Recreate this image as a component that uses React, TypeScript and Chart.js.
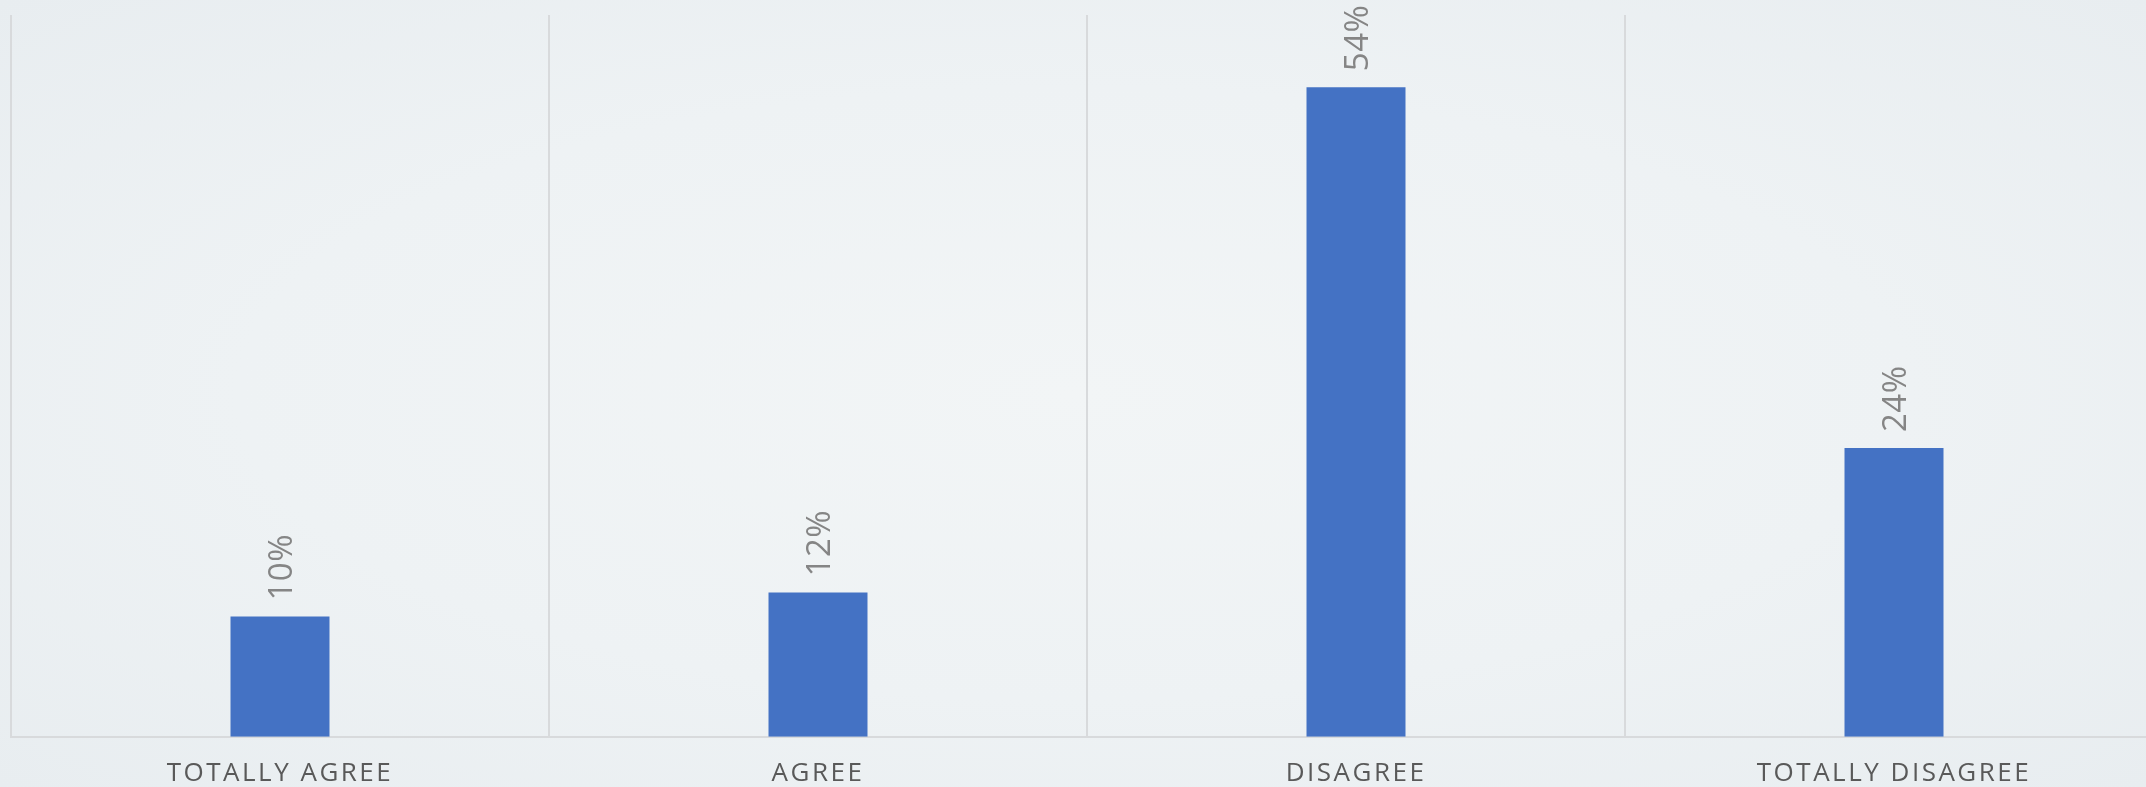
import React, { useEffect, useRef } from "react";
import { Chart, registerables } from "chart.js";

Chart.register(...registerables);

const categories = ["TOTALLY AGREE", "AGREE", "DISAGREE", "TOTALLY DISAGREE"];
const values = [10, 12, 54, 24];
const yMin = 0;
const yMax = 60;

const labelPlugin = {
  id: "valueLabels",
  afterDatasetsDraw(chart: any) {
    const ctx = chart.ctx;
    const meta = chart.getDatasetMeta(0);
    ctx.save();
    (ctx as any).letterSpacing = "0.5px";
    ctx.font = '33px "Open Sans"';
    ctx.fillStyle = "#858585";
    ctx.textAlign = "left";
    ctx.textBaseline = "alphabetic";
    meta.data.forEach((bar: any, i: number) => {
      ctx.save();
      ctx.translate(bar.x, bar.y - 16);
      ctx.rotate(-Math.PI / 2);
      ctx.fillText(values[i] + "%", 0, 12);
      ctx.restore();
    });
    ctx.restore();
  },
};

const spacingPlugin = {
  id: "tickSpacing",
  beforeDraw(chart: any) {
    (chart.ctx as any).letterSpacing = "2.5px";
  },
  beforeLayout(chart: any) {
    (chart.ctx as any).letterSpacing = "2.5px";
  },
};

export default function App() {
  const ref = useRef<HTMLCanvasElement>(null);
  useEffect(() => {
    document.body.style.margin = "0";
    document.body.style.overflow = "hidden";
    const chart = new Chart(ref.current!, {
      type: "bar",
      data: {
        labels: categories,
        datasets: [
          {
            data: values,
            backgroundColor: "#4472C4",
            borderWidth: 0,
            barPercentage: 0.184,
            categoryPercentage: 1,
          },
        ],
      },
      options: {
        animation: false,
        responsive: false,
        maintainAspectRatio: false,
        layout: { padding: { left: 11, right: 11, top: 15, bottom: 0 } },
        plugins: { legend: { display: false }, tooltip: { enabled: false } },
        scales: {
          x: {
            offset: true,
            grid: {
              offset: true,
              color: "#d8dadc",
              lineWidth: 2,
              drawTicks: false,
            },
            border: { color: "#d8dadc", width: 2 },
            ticks: {
              color: "#595959",
              font: { family: "Open Sans", size: 26 },
              padding: 21,
              maxRotation: 0,
              autoSkip: false,
            },
          },
          y: {
            display: false,
            min: yMin,
            max: yMax,
          },
        },
      },
      plugins: [spacingPlugin, labelPlugin],
    });
    return () => chart.destroy();
  }, []);
  return (
    <div
      style={{
        position: "fixed",
        inset: 0,
        overflow: "hidden",
        background:
          "radial-gradient(ellipse at 50% 50%, #f2f5f6 0%, #eef2f4 55%, #e8edf0 100%)",
      }}
    >
      <canvas
        ref={ref}
        width={2174}
        height={810}
        style={{ position: "absolute", left: 0, top: 0, width: 2174, height: 810 }}
      />
    </div>
  );
}
